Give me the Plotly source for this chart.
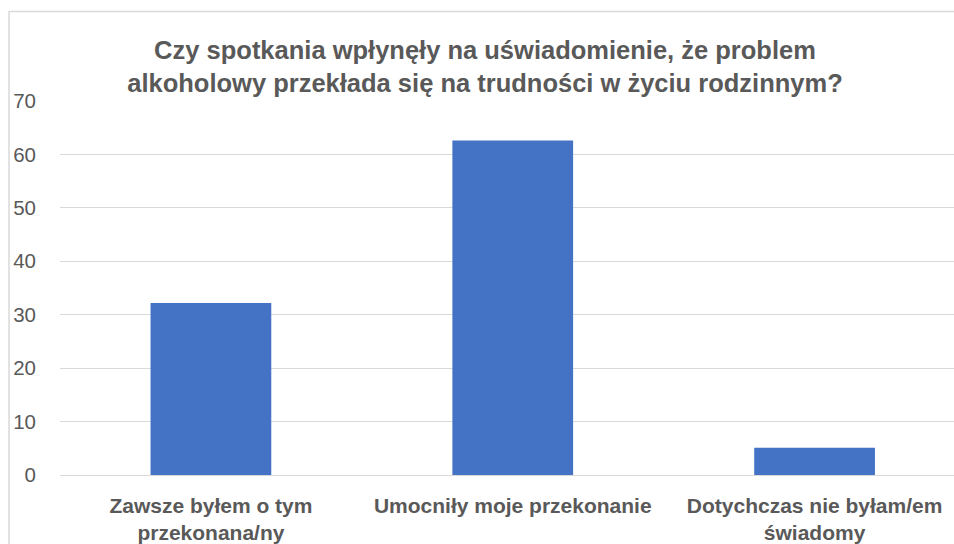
import plotly.graph_objects as go

categories = ["Zawsze byłem o tym<br>przekonana/ny", "Umocniły moje przekonanie", "Dotychczas nie byłam/em<br>świadomy"]
values = [32.2, 62.6, 5.1]
y_ticks = [0, 10, 20, 30, 40, 50, 60, 70]
title_text = "Czy spotkania wpłynęły na uświadomienie, że problem<br>alkoholowy przekłada się na trudności w życiu rodzinnym?"

W, H = 954, 544
ml, mt, mb = 59.5, 100.5, 69
plot_w = W - ml
plot_h = H - mt - mb

fig = go.Figure(go.Bar(
    x=list(range(len(categories))), y=values,
    marker=dict(color="#4472C4", line=dict(width=0)),
    width=0.4,
))

fig.update_layout(
    width=W, height=H,
    margin=dict(l=ml, r=0, t=mt, b=mb, pad=0),
    paper_bgcolor="white", plot_bgcolor="white",
    showlegend=False,
    title=dict(text=title_text, xref="container", x=485 / W, xanchor="center",
               yref="container", y=1 - 59 / H, yanchor="top",
               font=dict(family="Liberation Sans", size=25.5, color="#595959", weight="bold")),
    font=dict(family="Liberation Sans", color="#595959"),
    xaxis=dict(tickmode="array", tickvals=list(range(len(categories))), ticktext=categories,
               range=[-0.5, -0.5 + plot_w / 302], showgrid=False, zeroline=False,
               showline=False, ticks="", ticklabelstandoff=16,
               tickfont=dict(family="Liberation Sans", size=21, color="#595959", weight="bold")),
    yaxis=dict(range=[0, 70], tickvals=y_ticks, showgrid=True, gridcolor="#D9D9D9",
               gridwidth=1, zeroline=True, zerolinecolor="#D9D9D9", zerolinewidth=1,
               showline=False, ticks="", ticklabelstandoff=23,
               tickfont=dict(family="Liberation Sans", size=20.5, color="#595959")),
    shapes=[
        dict(type="line", xref="paper", yref="paper",
             x0=(8.5 - ml) / plot_w, x1=(8.5 - ml) / plot_w,
             y0=-mb / plot_h - 0.1, y1=(H - mb - 11) / plot_h,
             line=dict(color="#D9D9D9", width=1.5)),
        dict(type="line", xref="paper", yref="paper",
             x0=(8 - ml) / plot_w, x1=1.05,
             y0=(H - mb - 11) / plot_h, y1=(H - mb - 11) / plot_h,
             line=dict(color="#D9D9D9", width=1.5)),
    ],
)

fig.write_html(
    "out.html",
    config={"displayModeBar": False},
    post_script=(
        "document.documentElement.style.overflow='hidden';"
        "document.body.style.overflow='hidden';"
        "document.body.style.margin='0';"
    ),
)
